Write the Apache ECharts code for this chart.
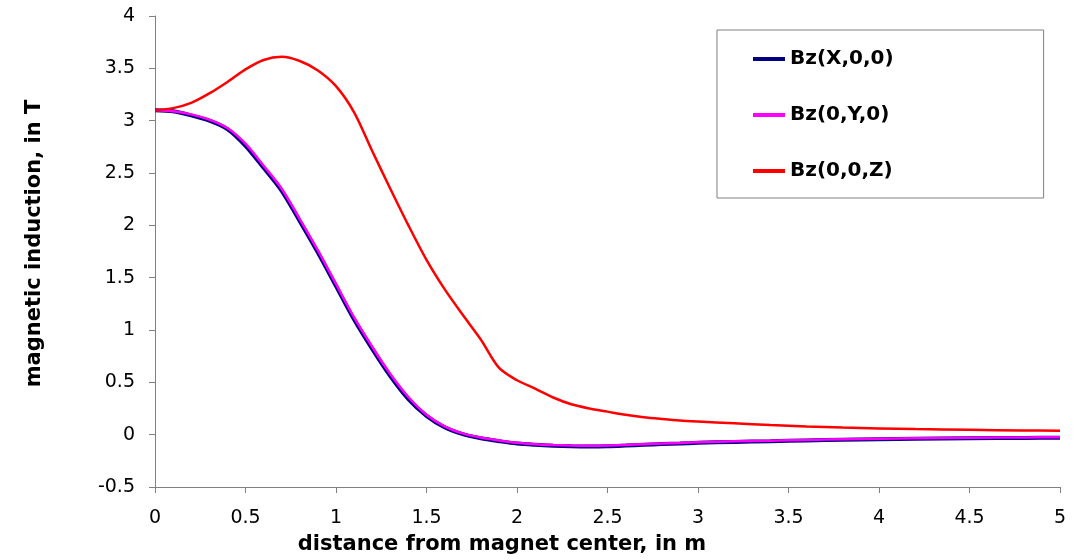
<!DOCTYPE html>
<html>
<head>
<meta charset="utf-8">
<script src="https://cdn.jsdelivr.net/npm/echarts@6/dist/echarts.min.js"></script>
<style>
  html, body { margin: 0; padding: 0; background: #fff; }
  #chart { width: 1076px; height: 560px; }
</style>
</head>
<body>
<div id="chart"></div>
<script>
// distance from magnet center (m)
var xVals = [0, 0.1, 0.2, 0.3, 0.4, 0.5, 0.6, 0.7, 0.8, 0.9, 1.0, 1.1, 1.2, 1.3, 1.4, 1.5, 1.6, 1.7, 1.8, 1.9,
  2.0, 2.1, 2.2, 2.3, 2.4, 2.5, 2.6, 2.7, 2.8, 2.9, 3.0, 3.2, 3.4, 3.6, 3.8, 4.0, 4.2, 4.5, 4.8, 5.0]

// Bz along X
var bzX = [3.10, 3.09, 3.05, 3.00, 2.92, 2.76, 2.55, 2.33, 2.04, 1.74, 1.42, 1.10, 0.82, 0.56, 0.34, 0.18, 0.07, 0.005, -0.035, -0.062,
  -0.085, -0.097, -0.105, -0.11, -0.112, -0.11, -0.104, -0.097, -0.09, -0.084, -0.078, -0.069, -0.062, -0.055, -0.049, -0.044, -0.040, -0.035, -0.031, -0.029]

// Bz along Y
var bzY = [3.10, 3.09, 3.06, 3.01, 2.93, 2.78, 2.57, 2.35, 2.06, 1.76, 1.44, 1.12, 0.84, 0.58, 0.36, 0.19, 0.08, 0.012, -0.028, -0.056,
  -0.078, -0.091, -0.099, -0.104, -0.106, -0.104, -0.098, -0.091, -0.085, -0.079, -0.073, -0.064, -0.057, -0.050, -0.044, -0.039, -0.035, -0.030, -0.026, -0.024]

// Bz along Z
var bzZ = [3.10, 3.12, 3.17, 3.26, 3.37, 3.49, 3.58, 3.61, 3.57, 3.48, 3.33, 3.08, 2.71, 2.35, 2.00, 1.67, 1.39, 1.145, 0.91, 0.64,
  0.52, 0.44, 0.355, 0.29, 0.25, 0.22, 0.19, 0.167, 0.15, 0.135, 0.125, 0.108, 0.092, 0.079, 0.068, 0.060, 0.053, 0.046, 0.041, 0.038]

var seriesNames = ['Bz(X,0,0)', 'Bz(0,Y,0)', 'Bz(0,0,Z)']

function pairs(ys) {
  return xVals.map(function (x, i) { return [x, ys[i]] })
}

var font = 'DejaVu Sans, Verdana, sans-serif'
var chart = echarts.init(document.getElementById('chart'))

chart.setOption({
  backgroundColor: '#fff',
  animation: false,
  grid: {
    left: 155,
    right: 16,
    top: 16,
    bottom: 70
  },
  legend: {
    orient: 'vertical',
    left: 717,
    top: 30,
    padding: [19, 150, 17, 36],
    itemGap: 36,
    itemWidth: 32,
    itemHeight: 4,
    backgroundColor: '#fff',
    borderColor: '#808080',
    borderWidth: 1,
    textStyle: {
      fontFamily: font,
      fontSize: 20,
      fontWeight: 'bold',
      color: '#000'
    },
    data: [
      { name: seriesNames[0], icon: 'rect', itemStyle: { color: '#000080' } },
      { name: seriesNames[1], icon: 'rect', itemStyle: { color: '#ff00ff' } },
      { name: seriesNames[2], icon: 'rect', itemStyle: { color: '#ff0000' } }
    ]
  },
  xAxis: {
    type: 'value',
    min: 0,
    max: 5,
    interval: 0.5,
    name: 'distance from magnet center, in m',
    nameLocation: 'middle',
    nameGap: 47,
    nameTextStyle: {
      fontFamily: font,
      fontSize: 21,
      fontWeight: 'bold',
      color: '#000',
      padding: [0, 211, 0, 0]
    },
    axisLine: { onZero: false, lineStyle: { color: '#808080', width: 1 } },
    axisTick: { show: true, length: 6, lineStyle: { color: '#808080' } },
    axisLabel: { fontFamily: font, fontSize: 19, color: '#000', margin: 22 },
    splitLine: { show: false }
  },
  yAxis: {
    type: 'value',
    min: -0.5,
    max: 4,
    interval: 0.5,
    name: 'magnetic induction, in T',
    nameLocation: 'middle',
    nameGap: 110,
    nameTextStyle: {
      fontFamily: font,
      fontSize: 21,
      fontWeight: 'bold',
      color: '#000',
      padding: [0, 0, 0, 16]
    },
    axisLine: { show: true, lineStyle: { color: '#808080', width: 1 } },
    axisTick: { show: true, length: 6, lineStyle: { color: '#808080' } },
    axisLabel: { fontFamily: font, fontSize: 19, color: '#000', margin: 20 },
    splitLine: { show: false }
  },
  series: [
    {
      name: seriesNames[0],
      type: 'line',
      smooth: 0.3,
      symbol: 'none',
      data: pairs(bzX),
      itemStyle: { color: '#000080' },
      lineStyle: { color: '#000080', width: 4 }
    },
    {
      name: seriesNames[1],
      type: 'line',
      smooth: 0.3,
      symbol: 'none',
      data: pairs(bzY),
      itemStyle: { color: '#ff00ff' },
      lineStyle: { color: '#ff00ff', width: 2.5 }
    },
    {
      name: seriesNames[2],
      type: 'line',
      smooth: 0.3,
      symbol: 'none',
      data: pairs(bzZ),
      itemStyle: { color: '#ff0000' },
      lineStyle: { color: '#ff0000', width: 2.5 }
    }
  ]
})
</script>
</body>
</html>
